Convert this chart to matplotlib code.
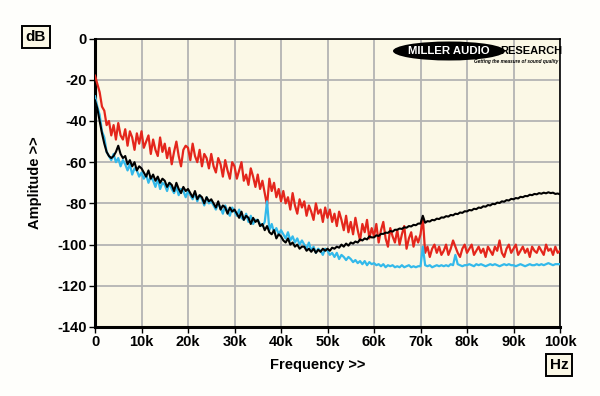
import numpy as np
import matplotlib
matplotlib.use("Agg")
import matplotlib.pyplot as plt
from matplotlib.patches import Ellipse

# Frequency axis: 0 .. 100 kHz in 0.5 kHz steps
freq_khz = [i * 0.5 for i in range(201)]

red_db = [
    -18, -22, -26, -33, -35, -42, -40, -47, -42, -49,
    -41, -47, -49, -44, -52, -45, -48, -54, -46, -51,
    -45, -53, -50, -47, -56, -49, -54, -57, -48, -55,
    -51, -58, -53, -61, -55, -50, -57, -62, -54, -52,
    -53, -59, -51, -57, -60, -54, -62, -56, -58, -63,
    -56, -62, -65, -58, -61, -67, -59, -64, -68, -60,
    -62, -68, -64, -60, -69, -66, -71, -63, -67, -72,
    -66, -73, -69, -75, -81, -68, -74, -70, -77, -73,
    -79, -74, -80, -77, -83, -75, -81, -85, -78, -82,
    -79, -86, -81, -84, -88, -80, -85, -83, -89, -82,
    -87, -83, -89, -85, -91, -84, -88, -93, -86, -94,
    -89, -95, -87, -93, -98, -90, -94, -88, -97, -92,
    -96, -90, -99, -93, -89, -97, -101, -92, -96, -99,
    -93, -100, -95, -91, -102, -97, -94, -101, -96, -99,
    -95, -87, -104, -101, -106, -102, -100, -104, -101, -105,
    -103, -100, -105, -102, -98, -101, -104, -106, -102, -100,
    -104, -102, -100, -105, -103, -101, -104, -102, -106, -101,
    -103, -105, -101, -103, -98, -104, -106, -102, -100, -104,
    -102, -100, -105, -103, -101, -104, -102, -106, -101, -103,
    -104, -101, -103, -105, -100, -103, -102, -105, -101, -104,
    -103,
]

cyan_db = [
    -28, -33, -37, -45, -48, -55, -57, -59, -56, -60,
    -58, -62, -59, -61, -64, -61, -66, -63, -64, -67,
    -65, -68, -66, -70, -67, -69, -72, -68, -73, -70,
    -71, -74, -70, -73, -75, -72, -76, -73, -74, -77,
    -74, -76, -78, -75, -79, -76, -78, -81, -77, -80,
    -79, -81, -83, -80, -82, -85, -81, -84, -86, -82,
    -84, -86, -83, -87, -88, -85, -89, -86, -90, -88,
    -88, -90, -91, -89, -79, -93, -90, -94, -92, -95,
    -93, -95, -97, -94, -98, -96, -99, -97, -100, -98,
    -100, -102, -99, -103, -101, -104, -102, -103, -105, -102,
    -103, -105, -104, -106, -104, -107, -105, -106, -107.5, -106,
    -107, -108.5, -107.5, -109, -108, -109.5, -108, -110, -108.5, -109.5,
    -109, -110, -109.5, -110.5, -109.5, -111, -110, -110.5, -110, -111,
    -110.5, -111, -110, -111, -110.5, -110, -111, -110.5, -111, -110.5,
    -110.5, -101, -110, -110.5, -110, -111, -110.5, -110, -110.5, -110,
    -110.5, -110, -110.5, -109.5, -110, -105, -109.5, -110, -110.5, -110,
    -110, -109.5, -110, -110.5, -109.5, -110, -109.5, -110, -110.5, -110,
    -109.5, -110, -109.5, -110, -110.5, -110, -109.5, -110, -109.5, -110,
    -110, -110.5, -110, -109.5, -110, -110.5, -110, -109.5, -110, -110,
    -109.5, -110, -109.5, -110, -109.5, -109, -109.5, -110, -109.5, -109.5,
    -109.5,
]

black_db = [
    -30, -34, -40, -46, -51, -55, -57, -58, -57, -55,
    -52, -56, -58, -57, -61, -59, -62, -60, -64, -62,
    -63, -65, -67, -64, -68, -66, -69, -67, -70, -68,
    -69, -72, -70, -71, -74, -70, -73, -75, -72, -74,
    -73, -75, -77, -74, -78, -76, -77, -80, -77, -79,
    -78, -80, -82, -79, -83, -81, -82, -85, -82, -84,
    -83, -85, -87, -84, -88, -86, -87, -90, -87, -89,
    -88, -91, -90, -93, -91, -94, -95, -93, -97, -95,
    -96, -98, -99, -97, -100, -99, -101, -100, -102, -101,
    -101, -103, -102, -103.5, -102, -104, -102.5, -103.5, -102, -103,
    -102, -103, -101.5, -102, -101, -101.5, -100, -101, -99.5, -100.5,
    -99, -99.5, -98.5, -99, -97.5, -98, -97, -97.5, -96, -96.5,
    -96.5, -95.5, -95.8, -94.8, -94.8, -94.2, -94.3, -93.4, -93.7, -92.8,
    -92.8, -92.2, -92.4, -91.6, -91.8, -91.0, -91.2, -90.4, -90.6, -89.8,
    -89.8, -86.0, -89.4, -88.6, -88.8, -88.0, -88.2, -87.4, -87.6, -86.8,
    -86.9, -86.2, -86.4, -85.6, -85.8, -85.0, -85.2, -84.4, -84.6, -83.8,
    -83.9, -83.2, -83.4, -82.6, -82.8, -82.0, -82.2, -81.4, -81.6, -80.8,
    -81.0, -80.2, -80.4, -79.6, -79.8, -79.0, -79.2, -78.4, -78.6, -77.8,
    -78.0, -77.4, -77.6, -76.8, -77.0, -76.4, -76.5, -75.8, -76.0, -75.4,
    -75.6, -75.0, -75.3, -74.8, -75.1, -74.6, -75.0, -74.8, -75.4, -75.2,
    -75.6,
]

x_ticks = [0, 10, 20, 30, 40, 50, 60, 70, 80, 90, 100]
x_tick_labels = ["0", "10k", "20k", "30k", "40k", "50k", "60k", "70k", "80k", "90k", "100k"]
y_ticks = [0, -20, -40, -60, -80, -100, -120, -140]

FONT = "Liberation Sans"
RED = "#e4261c"
CYAN = "#33b9ea"
BG = "#fbf8e6"

fig = plt.figure(figsize=(6.0, 3.96), dpi=100, facecolor="#fefefb")
ax = fig.add_axes([95 / 600, 1 - 327 / 396, 465 / 600, (327 - 38.6) / 396])
ax.set_facecolor(BG)

ax.plot(freq_khz, red_db, color=RED, lw=1.6, zorder=3)
ax.plot(freq_khz, cyan_db, color=CYAN, lw=1.6, zorder=4)
ax.plot(freq_khz, black_db, color="black", lw=1.5, zorder=5)

ax.set_xlim(0, 100)
ax.set_ylim(-140, 0)
ax.set_xticks(x_ticks)
ax.set_xticklabels(x_tick_labels)
ax.set_yticks(y_ticks)
ax.set_yticklabels([str(v) for v in y_ticks])
ax.grid(True, color="#b4b4b4", lw=1.3, zorder=1)
ax.set_axisbelow(True)
ax.tick_params(direction="out", length=4, width=1, color="black", pad=2)
for lab in ax.get_xticklabels() + ax.get_yticklabels():
    lab.set_fontfamily(FONT)
    lab.set_fontweight("bold")
    lab.set_fontsize(10.5)
for side in ["left", "bottom"]:
    ax.spines[side].set_linewidth(2.2)
for side in ["top", "right"]:
    ax.spines[side].set_linewidth(1.2)

fig.text(318 / 600, 1 - 365 / 396, "Frequency >>", ha="center", va="center",
         fontfamily=FONT, fontweight="bold", fontsize=10.5)
fig.text(35 / 600, 1 - 183 / 396, "Amplitude >>", ha="center", va="center", rotation=90,
         fontfamily=FONT, fontweight="bold", fontsize=10.5)

box = dict(boxstyle="square,pad=0.25", facecolor=BG, edgecolor="black", lw=1.4)
fig.text(36 / 600, 1 - 37 / 396, "dB", ha="center", va="center",
         fontfamily=FONT, fontweight="bold", fontsize=11, bbox=box)
fig.text(559 / 600, 1 - 365 / 396, "Hz", ha="center", va="center",
         fontfamily=FONT, fontweight="bold", fontsize=11, bbox=box)

# Logo
ell = Ellipse((449 / 600, 1 - 51 / 396), 112 / 600, 19 / 396, transform=fig.transFigure,
              facecolor="black", edgecolor="none", zorder=10)
fig.add_artist(ell)
fig.text(449 / 600, 1 - 51 / 396, "MILLER AUDIO", ha="center", va="center", color="white",
         fontfamily=FONT, fontweight="bold", fontsize=8.2, zorder=11)
fig.text(531 / 600, 1 - 51 / 396, "RESEARCH", ha="center", va="center", color="black",
         fontfamily=FONT, fontweight="bold", fontsize=8.0, zorder=11)
fig.text(558 / 600, 1 - 62 / 396, "Getting the measure of sound quality", ha="right", va="center",
         color="black", fontfamily=FONT, fontweight="bold", style="italic", fontsize=3.4, zorder=11)

fig.savefig("out.png", dpi=100, facecolor=fig.get_facecolor())
